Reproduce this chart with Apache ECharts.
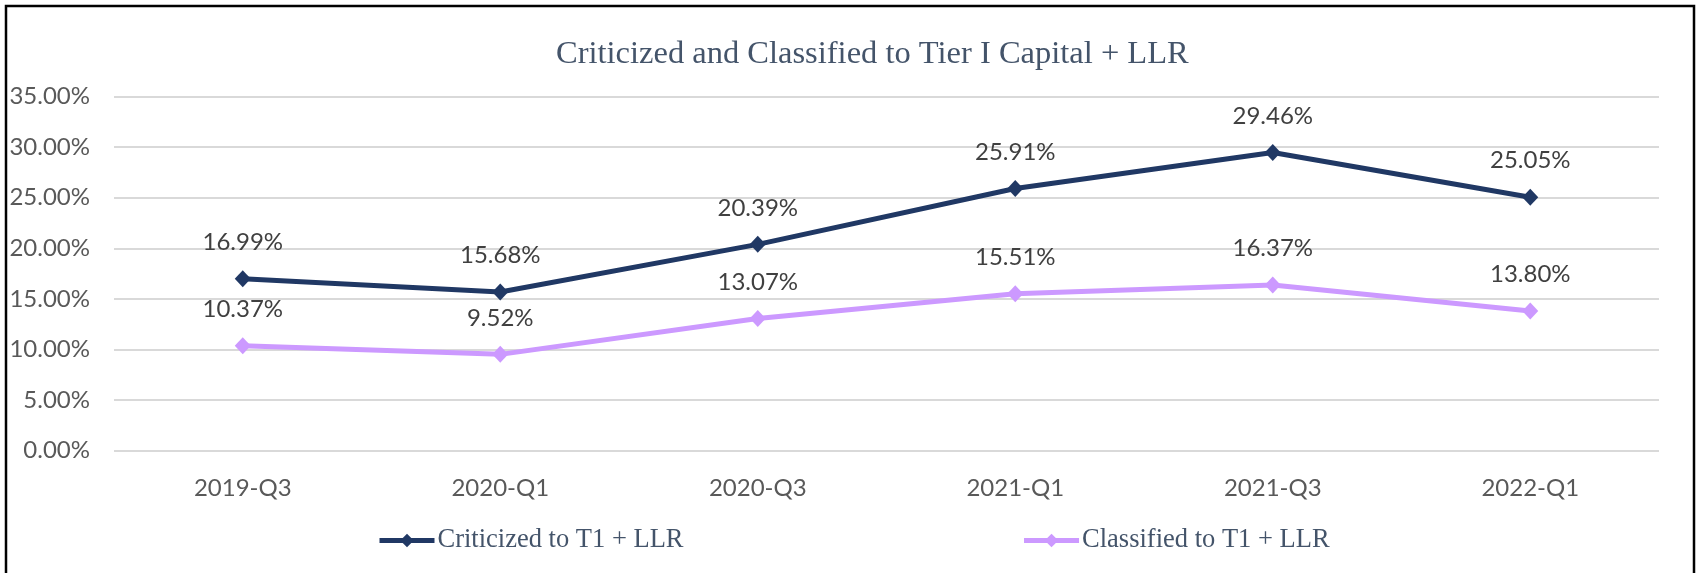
<!DOCTYPE html>
<html>
<head>
<meta charset="utf-8">
<script src="https://cdn.jsdelivr.net/npm/echarts@6/dist/echarts.min.js"></script>
<style>
html,body{margin:0;padding:0;background:#fff;}
#chart{width:1701px;height:573px;}
</style>
</head>
<body>
<div id="chart"></div>
<script>
const categories = ['2019-Q3', '2020-Q1', '2020-Q3', '2021-Q1', '2021-Q3', '2022-Q1'];
const criticized = [16.99, 15.68, 20.39, 25.91, 29.46, 25.05];
const classified = [10.37, 9.52, 13.07, 15.51, 16.37, 13.80];
const seriesNames = ['Criticized to T1 + LLR', 'Classified to T1 + LLR'];
const titleText = 'Criticized and Classified to Tier I Capital + LLR';

const chart = echarts.init(document.getElementById('chart'));
const labelFont = 'Lato';
const pct = v => Number(v).toFixed(2) + '%';

function makeSeries(name, data, color) {
  return {
    name: name,
    type: 'line',
    data: data,
    symbol: 'diamond',
    symbolSize: [16, 17],
    lineStyle: { color: color, width: 5 },
    itemStyle: { color: color },
    label: {
      show: true,
      position: 'top',
      distance: 16,
      formatter: p => pct(p.value),
      color: '#404040',
      fontFamily: labelFont,
      fontSize: 24
    },
    emphasis: { disabled: true },
    animation: false
  };
}

chart.setOption({
  animation: false,
  backgroundColor: '#ffffff',
  title: {
    text: titleText,
    left: 551,
    top: 33,
    textStyle: {
      fontFamily: 'Liberation Serif',
      fontWeight: 'normal',
      fontSize: 32.5,
      color: '#44546A'
    }
  },
  legend: {
    data: seriesNames,
    left: 372,
    top: 522,
    itemWidth: 55,
    itemHeight: 17,
    itemGap: 338,
    lineStyle: { width: 5 },
    textStyle: {
      fontFamily: 'Liberation Serif',
      fontSize: 26.5,
      color: '#44546A',
      padding: [0, 0, 0, -2]
    }
  },
  grid: { left: 114, right: 42, top: 96.5, bottom: 122.3, containLabel: false },
  xAxis: {
    type: 'category',
    data: categories,
    boundaryGap: true,
    axisLine: { show: false },
    axisTick: { show: false },
    axisLabel: {
      margin: 26,
      color: '#595959',
      fontFamily: labelFont,
      fontSize: 24
    }
  },
  yAxis: {
    type: 'value',
    min: 0,
    max: 35,
    interval: 5,
    axisLine: { show: false },
    axisTick: { show: false },
    splitLine: { lineStyle: { color: '#D9D9D9', width: 2 } },
    axisLabel: {
      margin: 24,
      color: '#595959',
      fontFamily: labelFont,
      fontSize: 24,
      formatter: v => pct(v)
    }
  },
  graphic: [{
    type: 'rect',
    shape: { x: 6, y: 6, width: 1688, height: 620 },
    style: { fill: 'none', stroke: '#000000', lineWidth: 2.5 },
    silent: true,
    z: 100
  }],
  series: [
    makeSeries(seriesNames[0], criticized, '#203864'),
    makeSeries(seriesNames[1], classified, '#CC99FF')
  ]
});
</script>
</body>
</html>
